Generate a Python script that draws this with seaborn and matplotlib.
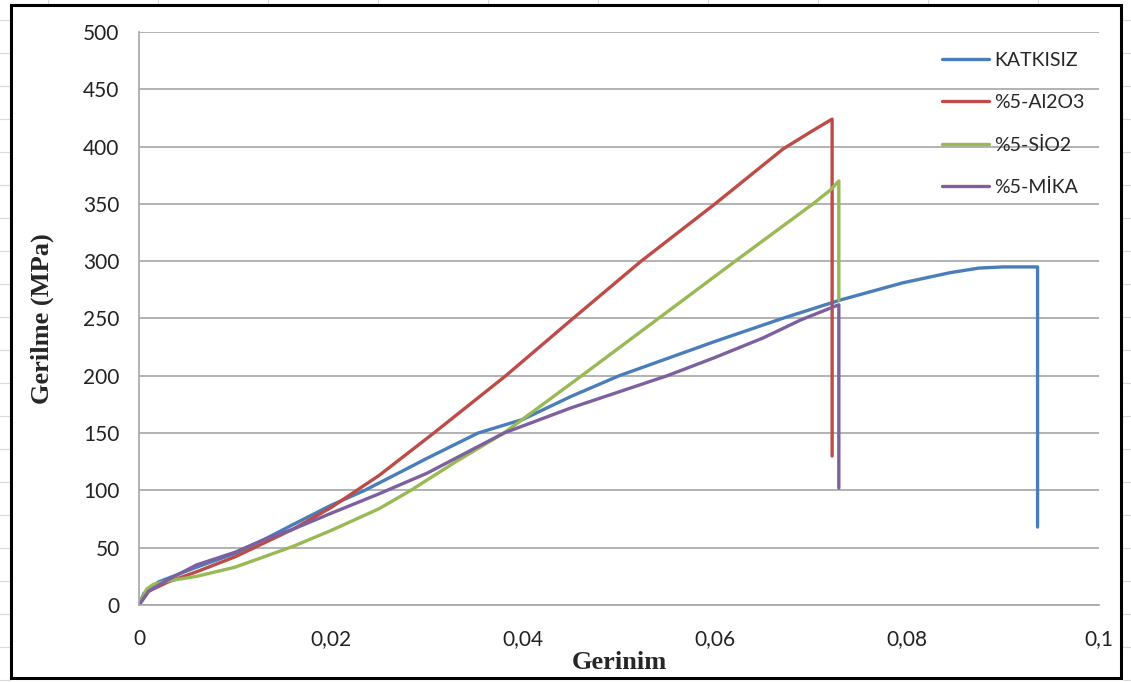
import matplotlib
matplotlib.use("Agg")
import matplotlib.pyplot as plt
import pandas as pd
import seaborn as sns
from matplotlib.lines import Line2D
from matplotlib.patches import Rectangle

# strain / stress points
katkisiz_x = [0, 0.0005, 0.002, 0.006, 0.01, 0.013, 0.016, 0.02, 0.0235, 0.027, 0.03, 0.0353,
              0.04, 0.045, 0.05, 0.055, 0.06, 0.067, 0.073, 0.0795, 0.0845, 0.0875, 0.09,
              0.0936, 0.0936]
katkisiz_y = [0, 10, 20, 33, 45, 57, 70, 87, 100, 115, 128, 150,
              162, 182, 200, 215, 230, 250, 266, 281, 290, 294, 295,
              295, 68]

al2o3_x = [0, 0.001, 0.003, 0.006, 0.01, 0.013, 0.016, 0.02, 0.025, 0.0307, 0.0382,
           0.0452, 0.0523, 0.06, 0.0671, 0.07, 0.0722, 0.0722]
al2o3_y = [0, 12, 20, 29, 42, 54, 66, 85, 113, 150, 200,
           250, 300, 350, 398, 413, 424, 130]

sio2_x = [0, 0.0008, 0.0015, 0.003, 0.006, 0.01, 0.013, 0.016, 0.02, 0.025, 0.0283, 0.033,
          0.038, 0.0461, 0.0541, 0.0621, 0.0702, 0.072, 0.0729, 0.0729]
sio2_y = [0, 14, 18, 21, 25, 33, 42, 51, 65, 84, 100, 125,
          150, 200, 250, 300, 350, 362, 370, 266]

mika_x = [0, 0.001, 0.003, 0.006, 0.01, 0.013, 0.016, 0.02, 0.025, 0.03, 0.038, 0.045,
          0.055, 0.06, 0.065, 0.069, 0.0729, 0.0729]
mika_y = [0, 12, 22, 35, 46, 57, 66, 80, 97, 115, 150, 172,
          200, 216, 233, 249, 262, 102]

labels = ["KATKISIZ", "%5-Al2O3", "%5-SİO2", "%5-MİKA"]
colors = ["#4a7ebb", "#be4b48", "#98b954", "#7d60a0"]

x_ticks = [0, 0.02, 0.04, 0.06, 0.08, 0.1]
x_tick_labels = ["0", "0,02", "0,04", "0,06", "0,08", "0,1"]
y_ticks = [0, 50, 100, 150, 200, 250, 300, 350, 400, 450, 500]

frames = []
for lab, xs, ys in zip(labels, [katkisiz_x, al2o3_x, sio2_x, mika_x],
                       [katkisiz_y, al2o3_y, sio2_y, mika_y]):
    frames.append(pd.DataFrame({"Gerinim": xs, "Gerilme": ys, "Seri": lab}))
df = pd.concat(frames, ignore_index=True)

sns.set_style("white")
plt.rcParams["font.family"] = ["Lato", "DejaVu Sans"]

W, H = 1131, 682
fig = plt.figure(figsize=(W / 100, H / 100), dpi=100)

# faint spreadsheet cells behind the chart
for yy in range(20, H, 33):
    fig.add_artist(Line2D([0, 10 / W], [1 - yy / H] * 2, color="#d8d8d8", lw=0.8, zorder=-3))
    fig.add_artist(Line2D([1123 / W, 1], [1 - yy / H] * 2, color="#d8d8d8", lw=0.8, zorder=-3))
for xx in range(48, W, 110):
    fig.add_artist(Line2D([xx / W] * 2, [1 - 4 / H, 1], color="#d8d8d8", lw=0.8, zorder=-3))
fig.add_artist(Rectangle((11 / W, 4 / H), 1110 / W, 673 / H,
                         transform=fig.transFigure, fill=True, facecolor="white",
                         edgecolor="black", lw=2.2, zorder=-2))

ax = fig.add_axes([139 / W, 1 - 605 / H, 960 / W, 573 / H])
ax.patch.set_alpha(0)

sns.lineplot(data=df, x="Gerinim", y="Gerilme", hue="Seri", palette=colors,
             sort=False, estimator=None, units="Seri", lw=2.4, ax=ax, legend=False)

ax.set_xlim(0, 0.1)
ax.set_ylim(0, 500)
ax.set_xticks(x_ticks)
ax.set_xticklabels(x_tick_labels)
ax.set_yticks(y_ticks)
ax.yaxis.grid(True, color="#a6a6a6", lw=1.2)
ax.set_axisbelow(True)
for s in ["top", "right"]:
    ax.spines[s].set_visible(False)
for s in ["left", "bottom"]:
    ax.spines[s].set_color("#a6a6a6")
    ax.spines[s].set_linewidth(1.2)
ax.tick_params(axis="both", direction="out", length=6, width=1.2, color="#a6a6a6",
               labelsize=15, labelcolor="#222222", pad=8)
ax.tick_params(axis="x", pad=11)

ax.set_xlabel("Gerinim", family="Liberation Serif", fontweight="bold", fontsize=19)
ax.set_ylabel("Gerilme (MPa)", family="Liberation Serif", fontweight="bold", fontsize=19)
ax.xaxis.set_label_coords(0.5, -(651 - 605) / 573)
ax.yaxis.set_label_coords(-(139 - 54) / 960, 0.5)

handles = [Line2D([], [], color=c, lw=2.4) for c in colors]
ax.legend(handles, labels, loc="upper left", bbox_to_anchor=((942 - 139) / 960, (605 - 52) / 573),
          frameon=False, fontsize=14, handlelength=2.4, handletextpad=0.3,
          labelspacing=1.3, borderpad=0, borderaxespad=0)

fig.savefig("out.png", dpi=100)
